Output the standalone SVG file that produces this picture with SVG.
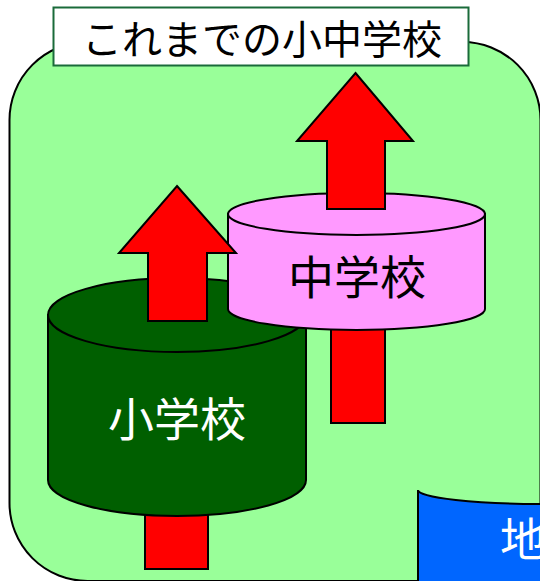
<svg xmlns="http://www.w3.org/2000/svg" width="540" height="581" viewBox="0 0 540 581">
<style>
.o{stroke:#000;stroke-width:2;stroke-linejoin:miter}
.red{fill:#ff0000}
.t{font-family:"Noto Sans CJK JP","Noto Sans",sans-serif;text-anchor:middle}
</style>
<rect width="540" height="581" fill="#ffffff"/>
<g id="frame">
<rect x="9.5" y="42" width="531" height="539" rx="78" ry="78" fill="#99ff99" class="o"/>
</g>
<g id="title">
<rect x="53.5" y="7.5" width="415" height="58" fill="#ffffff" stroke="#1a6b3a" stroke-width="2"/>
<text class="t" x="262" y="54" font-size="40" fill="#000">これまでの小中学校</text>
</g>
<g id="connectors">
<rect x="145" y="490" width="63" height="79" class="o red"/>
<rect x="331" y="300" width="54" height="123" class="o red"/>
</g>
<g id="elementary">
<path d="M48,315 L48,480 A129,36 0 0 0 306,480 L306,315 Z" fill="#005f00" class="o"/>
<ellipse cx="177" cy="315" rx="129" ry="37" fill="#005f00" class="o"/>
<text class="t" x="177" y="436" font-size="46" fill="#ffffff">小学校</text>
</g>
<g id="junior">
<path d="M228,214 L228,309 A128.5,21 0 0 0 485,309 L485,214 Z" fill="#ff99ff" class="o"/>
<ellipse cx="356.5" cy="214" rx="128.5" ry="21" fill="#ff99ff" class="o"/>
<text class="t" x="357" y="294" font-size="46" fill="#000">中学校</text>
</g>
<g id="arrows">
<polygon points="355.5,73 413,141 385,141 385,209 327,209 327,141 297,141" class="o red"/>
<polygon points="177,186 236,253 207,253 207,321 148,321 148,253 119,253" class="o red"/>
</g>
<g id="community">
<path d="M418,490 A129,14 0 0 0 676,490 L676,600 L418,600 Z" fill="#0066ff" class="o"/>
<text x="500" y="556" font-size="46" fill="#ffffff" font-family="'Noto Sans CJK JP','Noto Sans',sans-serif">地</text>
</g>
</svg>
